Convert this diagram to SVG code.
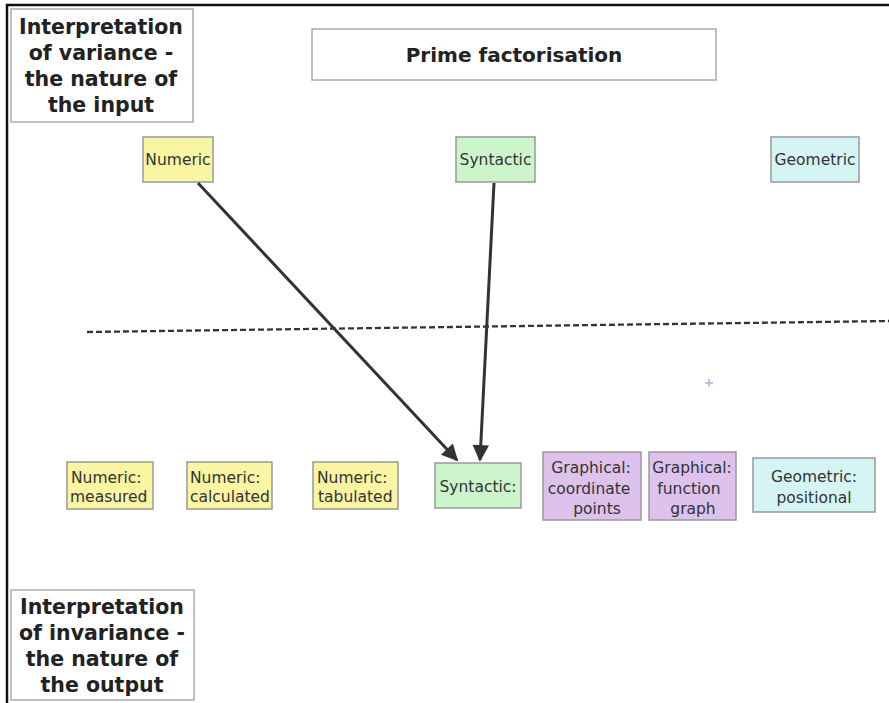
<svg xmlns="http://www.w3.org/2000/svg" width="889" height="703" viewBox="0 0 889 703">
<style>
.frame{stroke:#111;stroke-width:2.5;fill:none}
.title{fill:#fff;stroke:#aaa;stroke-width:1.5}
.tt{font-family:"DejaVu Sans",Verdana,sans-serif;font-weight:bold;font-size:20.5px;fill:#222;text-anchor:middle}
.n{stroke:#999;stroke-width:1.5}
.y{fill:#faf5a2}
.g{fill:#cdf5cc}
.c{fill:#d5f5f4}
.p{fill:#dcc2ed}
.t{font-family:"DejaVu Sans",Verdana,sans-serif;font-size:15.5px;fill:#333}
.m{text-anchor:middle}
.conn{stroke:#333;stroke-width:3;fill:none}
.dash{stroke:#333;stroke-width:2.3;stroke-dasharray:6 3;fill:none}
</style>
<defs>
<marker id="ah" viewBox="0 0 10 10" refX="9" refY="5" markerWidth="6" markerHeight="5.5" orient="auto" markerUnits="strokeWidth">
<path d="M0,0 L10,5 L0,10 z" fill="#333"/>
</marker>
</defs>
<rect width="889" height="703" fill="#fff"/>
<path class="frame" d="M7,703 V5 H889"/>
<g id="label-variance">
<rect class="title" x="11" y="9" width="182" height="113"/>
<text class="tt" x="101" y="34">Interpretation</text>
<text class="tt" x="101" y="60">of variance -</text>
<text class="tt" x="101" y="86">the nature of</text>
<text class="tt" x="101" y="112">the input</text>
</g>
<g id="title">
<rect class="title" x="312" y="29" width="404" height="51"/>
<text class="tt" x="514" y="62" style="font-size:20px">Prime factorisation</text>
</g>
<g id="label-invariance">
<rect class="title" x="11" y="590" width="183" height="110"/>
<text class="tt" x="102" y="614">Interpretation</text>
<text class="tt" x="102" y="640">of invariance -</text>
<text class="tt" x="102" y="666">the nature of</text>
<text class="tt" x="102" y="692">the output</text>
</g>
<g id="in-numeric">
<rect class="n y" x="143" y="137" width="70" height="45"/>
<text class="t m" x="178" y="165">Numeric</text>
</g>
<g id="in-syntactic">
<rect class="n g" x="456" y="137" width="79" height="45"/>
<text class="t m" x="495.5" y="165">Syntactic</text>
</g>
<g id="in-geometric">
<rect class="n c" x="771" y="137" width="88" height="45"/>
<text class="t m" x="815" y="165">Geometric</text>
</g>
<g id="out-measured">
<rect class="n y" x="67" y="462" width="86" height="47"/>
<text class="t" x="71" y="483">Numeric:</text>
<text class="t" x="70" y="502">measured</text>
</g>
<g id="out-calculated">
<rect class="n y" x="187" y="462" width="85" height="47"/>
<text class="t" x="190" y="483">Numeric:</text>
<text class="t" x="190" y="502">calculated</text>
</g>
<g id="out-tabulated">
<rect class="n y" x="313" y="462" width="85" height="47"/>
<text class="t" x="317" y="483">Numeric:</text>
<text class="t" x="318" y="502">tabulated</text>
</g>
<g id="out-syntactic">
<rect class="n g" x="435" y="463" width="86" height="45"/>
<text class="t m" x="478" y="492">Syntactic:</text>
</g>
<g id="out-coordinate">
<rect class="n p" x="543" y="452" width="98" height="68"/>
<text class="t m" x="591" y="473">Graphical:</text>
<text class="t m" x="589" y="494">coordinate</text>
<text class="t m" x="597" y="514">points</text>
</g>
<g id="out-function">
<rect class="n p" x="649" y="452" width="87" height="68"/>
<text class="t m" x="692" y="473">Graphical:</text>
<text class="t m" x="689" y="494">function</text>
<text class="t m" x="693" y="514">graph</text>
</g>
<g id="out-positional">
<rect class="n c" x="753" y="458" width="122" height="54"/>
<text class="t m" x="814" y="482">Geometric:</text>
<text class="t m" x="814" y="503">positional</text>
</g>
<path d="M705,383 h8 M709,379 v8" stroke="#b8b0e8" stroke-width="1.5"/>
<g id="connectors">
<path class="dash" d="M87,332 L889,321"/>
<path class="conn" d="M198,183 L457,460" marker-end="url(#ah)"/>
<path class="conn" d="M494,183 L480,460" marker-end="url(#ah)"/>
</g>
</svg>
